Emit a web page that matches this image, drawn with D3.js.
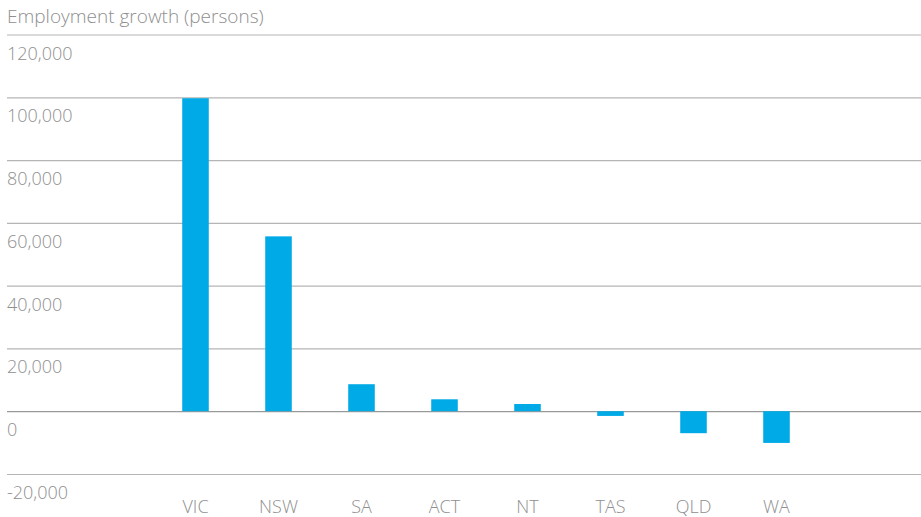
<!DOCTYPE html>
<html>
<head>
<meta charset="utf-8">
<script src="https://cdn.jsdelivr.net/npm/d3@7"></script>
<style>
  body { margin: 0; background: #fff; }
  svg text { font-family: "Open Sans", sans-serif; fill: #8f8f8f; font-weight: 300; }
  .grid line { stroke: #b5b5b5; stroke-width: 1.2; }
  .grid .zero line { stroke: #9a9a9a; }
  .grid path { display: none; }
</style>
</head>
<body>
<svg id="chart"></svg>
<script>
var states = ["VIC", "NSW", "SA", "ACT", "NT", "TAS", "QLD", "WA"];
var growth = [99700, 55700, 8600, 3800, 2300, -1500, -7000, -10100];
var yTicks = [-20000, 0, 20000, 40000, 60000, 80000, 100000, 120000];
var title = "Employment growth (persons)";

var screen = {width: 921, height: 517};
var plot = {left: 7, right: 921, top: 34.5, bottom: 474};

var svg = d3.select("#chart")
    .attr("width", screen.width)
    .attr("height", screen.height);

var yScale = d3.scaleLinear()
    .domain([-20000, 120000])
    .range([plot.bottom, plot.top]);

var xScale = d3.scaleBand()
    .domain(states)
    .range([154, 818])
    .paddingInner(0.68)
    .paddingOuter(0.34);

// gridlines + tick labels (labels sit under their line)
var fmt = d3.format(",");
var yAxis = d3.axisRight(yScale)
    .tickValues(yTicks)
    .tickSize(plot.right - plot.left)
    .tickFormat(function(d) { return fmt(d).replace("\u2212", "-"); });

var grid = svg.append("g")
    .attr("class", "grid")
    .attr("transform", "translate(" + plot.left + ",0)")
    .call(yAxis);

grid.selectAll(".tick")
    .classed("zero", function(d) { return d === 0; });

grid.selectAll(".tick text")
    .attr("x", 0)
    .attr("dy", 24.5)
    .attr("text-anchor", "start")
    .style("font-size", "18px");

svg.append("g")
    .selectAll("rect")
    .data(states)
    .enter()
    .append("rect")
    .attr("x", function(d) { return xScale(d); })
    .attr("width", xScale.bandwidth())
    .attr("y", function(d, i) { return yScale(Math.max(0, growth[i])); })
    .attr("height", function(d, i) { return Math.abs(yScale(growth[i]) - yScale(0)); })
    .attr("fill", "#00aae6");

var xAxis = d3.axisBottom(xScale).tickSize(0);
var xg = svg.append("g")
    .attr("transform", "translate(0,497)")
    .call(xAxis);
xg.select(".domain").remove();
xg.selectAll("text")
    .attr("dy", 0)
    .attr("y", 16)
    .style("font-size", "18px");

svg.append("text")
    .attr("x", 7)
    .attr("y", 23)
    .style("font-size", "19px")
    .text(title);
</script>
</body>
</html>
